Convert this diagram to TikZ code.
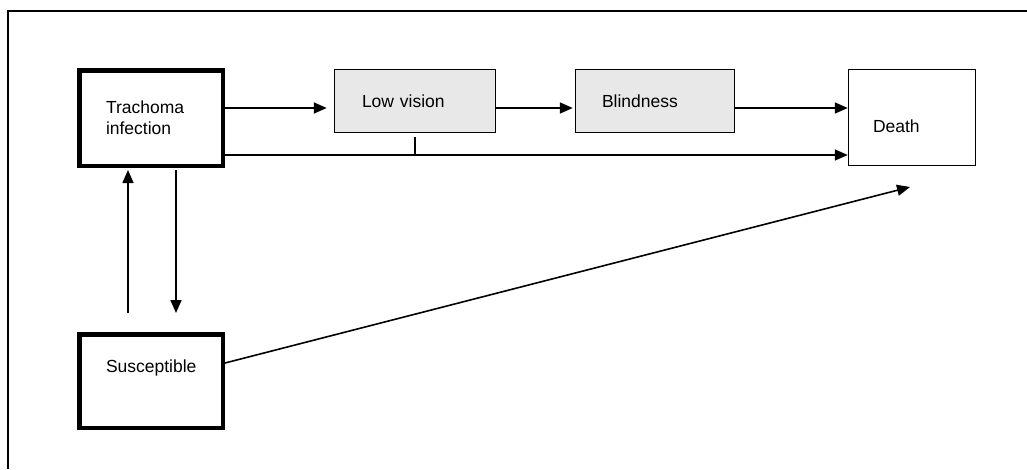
\documentclass[tikz,border=0pt]{standalone}
\usepackage{fontspec}
\setmainfont{Liberation Sans}
\usetikzlibrary{arrows.meta}

\begin{document}
\begin{tikzpicture}[x=1pt, y=-1pt, font=\fontsize{17.5}{21}\selectfont,
    >={Triangle[length=13pt, width=11pt]},
    box/.style={draw, line width=1.5pt, align=left, inner sep=0pt},
    heavy/.style={box, line width=4.5pt},
    grey/.style={box, fill=black!9},
    link/.style={line width=1.6pt, ->}]
    \useasboundingbox (0,0) rectangle (1027,469);
    \draw[line width=1.6pt] (8,469) -- (8,11) -- (1027,11);

    % states
    \node[heavy, minimum width=143.5pt, minimum height=95.5pt,
        text width=90pt] (trachoma) at (151,118) {Trachoma\\infection};
    \node[heavy, minimum width=143.5pt, minimum height=93.5pt,
        text width=90pt, text depth=30pt] (suscept) at (151,381) {Susceptible};
    \node[grey, minimum width=161pt, minimum height=63pt,
        text width=106pt] (lowvis) at (415,101) {Low vision};
    \node[grey, minimum width=159pt, minimum height=63pt,
        text width=106pt] (blind) at (655,101) {Blindness};
    \node[box, minimum width=127pt, minimum height=96pt,
        text width=78pt, text height=29.5pt] (death) at (912,117.5) {Death};

    \coordinate (upper) at (0,108);
    \coordinate (lower) at (0,155);
    \coordinate (tipend) at (910,187);

    \draw[link, shorten >=7pt] (trachoma.east |- upper) -- (lowvis.west |- upper);
    \draw[link, shorten >=2pt] (lowvis.east |- upper) -- (blind.west |- upper);
    \draw[link] (blind.east |- upper) -- (death.west |- upper);
    \draw[link] (trachoma.east |- lower) -- (death.west |- lower);
    \draw[line width=1.6pt] ([yshift=-4pt]lowvis.south) -- (lowvis.south |- lower);

    \draw[link] ([shift={(-23pt,19pt)}]suscept.north) -- ([shift={(-23pt,-2pt)}]trachoma.south);
    \draw[link] ([shift={(25pt,-2pt)}]trachoma.south) -- ([shift={(25pt,19pt)}]suscept.north);
    \draw[link] ([yshift=18pt]suscept.east) -- (tipend);
\end{tikzpicture}
\end{document}
